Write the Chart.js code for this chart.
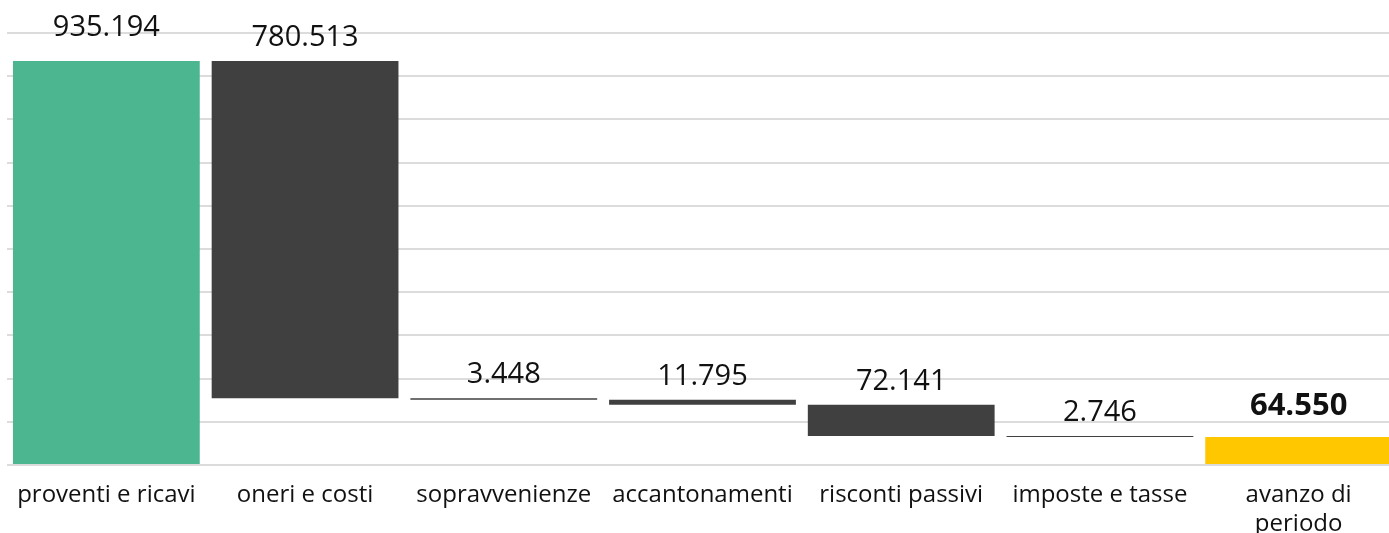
<!DOCTYPE html>
<html>
<head>
<meta charset="utf-8">
<script src="https://cdn.jsdelivr.net/npm/chart.js@4"></script>
<style>
  html, body { margin: 0; padding: 0; overflow: hidden; background: #fff; }
  #wrap { width: 1398px; height: 533px; }
</style>
</head>
<body>
<div id="wrap"><canvas id="waterfall"></canvas></div>
<script>
// categories and step values of the waterfall
const categories = [
    "proventi e ricavi",
    "oneri e costi",
    "sopravvenienze",
    "accantonamenti",
    "risconti passivi",
    "imposte e tasse",
    ["avanzo di", "periodo"],
];
const stepValues = [935194, -780513, -3448, -11795, -72141, -2746, 64550];
const stepLabels = ["935.194", "780.513", "3.448", "11.795", "72.141", "2.746", "64.550"];
const stepKinds = ["start", "step", "step", "step", "step", "step", "total"];
const yTicks = { min: 0, max: 1000000, step: 100000 };

const GREEN = "#4bb68f";
const DARK = "#404040";
const YELLOW = "#ffc700";

/**
 * Builds [low, high] pairs for floating bars
 * @returns {Array}
 */
const getFloatingData = () => {
    let running = 0;
    return stepValues.map((v, i) => {
        if (stepKinds[i] === "total") {
            return [0, v];
        }
        const from = running;
        running += v;
        return [Math.min(from, running), Math.max(from, running)];
    });
};

const barColors = stepKinds.map((k) => (k === "start" ? GREEN : k === "total" ? YELLOW : DARK));

// distance of the value label above the bar top, by kind
const labelOffset = { start: 33, step: 23, total: 31 };

// draws the value above each bar
const valueLabels = {
    id: "valueLabels",
    afterDatasetsDraw(chart) {
        const ctx = chart.ctx;
        const meta = chart.getDatasetMeta(0);
        ctx.save();
        ctx.textAlign = "center";
        ctx.textBaseline = "middle";
        ctx.fillStyle = "#111";
        meta.data.forEach((bar, i) => {
            const bold = stepKinds[i] === "total";
            ctx.font = (bold ? "bold 31px" : "29px") + " 'Open Sans', sans-serif";
            const top = Math.min(bar.y, bar.base);
            ctx.fillText(stepLabels[i], bar.x, top - labelOffset[stepKinds[i]]);
        });
        ctx.restore();
    },
};

const element = document.getElementById("waterfall");

new Chart(element, {
    type: "bar",
    data: {
        labels: categories,
        datasets: [
            {
                data: getFloatingData(),
                backgroundColor: barColors,
                borderWidth: 0,
                barPercentage: 0.94,
                categoryPercentage: 1,
            },
        ],
    },
    options: {
        responsive: true,
        maintainAspectRatio: false,
        animation: false,
        layout: { padding: { left: 7, top: 33, right: 0, bottom: 0 } },
        plugins: {
            legend: { display: false },
            tooltip: { enabled: false },
        },
        scales: {
            x: {
                grid: { display: false },
                border: { display: false },
                ticks: {
                    color: "#111",
                    padding: 8,
                    maxRotation: 0,
                    autoSkip: false,
                    font: { family: "'Open Sans', sans-serif", size: 24, lineHeight: 1.2 },
                },
                afterFit: (scale) => {
                    scale.height = 68;
                },
            },
            y: {
                min: yTicks.min,
                max: yTicks.max,
                ticks: { display: false, stepSize: yTicks.step },
                grid: { color: "#dcdcdc", lineWidth: 2, drawTicks: false },
                border: { display: false },
            },
        },
    },
    plugins: [valueLabels],
});
</script>
</body>
</html>
